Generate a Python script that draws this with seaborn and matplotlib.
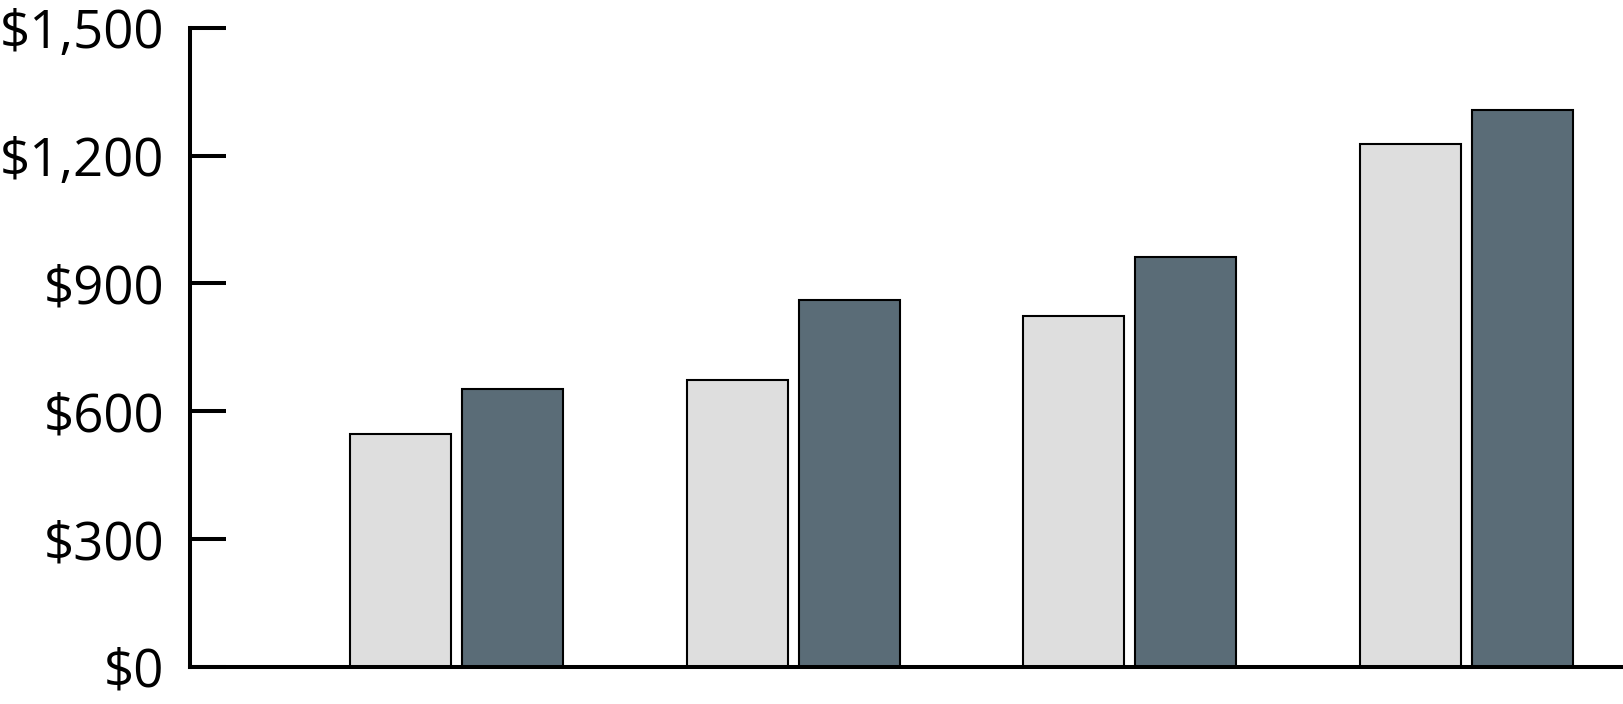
import matplotlib
matplotlib.use("Agg")
import matplotlib.pyplot as plt
import seaborn as sns
import pandas as pd
from matplotlib.ticker import FuncFormatter

categories = ["Group 1", "Group 2", "Group 3", "Group 4"]
series_names = ["Series A", "Series B"]
series_a = [546, 672, 823, 1227]
series_b = [651, 860, 962, 1307]
y_ticks = [0, 300, 600, 900, 1200, 1500]

df = pd.DataFrame({
    "category": categories * 2,
    "series": [series_names[0]] * 4 + [series_names[1]] * 4,
    "value": series_a + series_b,
})

sns.set_theme(style="white")
plt.rcParams["font.family"] = ["Open Sans", "DejaVu Sans"]

fig = plt.figure(figsize=(16.24, 7.04), dpi=100)
ax = fig.add_axes([190 / 1624, 1 - 666.5 / 704, 1 - 190 / 1624, (666.5 - 28) / 704])

sns.barplot(data=df, x="category", y="value", hue="series",
            palette=["#DEDEDE", "#5A6C77"], width=0.665, gap=0.098,
            edgecolor="black", linewidth=1.5, saturation=1,
            legend=False, ax=ax, errorbar=None)

ax.set_ylim(0, 1500)
ax.set_xlim(-0.792, 3.468)
ax.set_yticks(y_ticks)
ax.yaxis.set_major_formatter(FuncFormatter(lambda v, p: f"${int(v):,}"))
ax.tick_params(axis="y", direction="in", length=26, width=2.9, pad=18.5,
               labelsize=38, colors="black", left=True)
ax.tick_params(axis="x", bottom=False, labelbottom=False)
ax.set_xlabel("")
ax.set_ylabel("")
for s in ["top", "right"]:
    ax.spines[s].set_visible(False)
for s in ["left", "bottom"]:
    ax.spines[s].set_linewidth(2.9)
    ax.spines[s].set_color("black")
    ax.spines[s].set_capstyle("projecting")
ax.set_facecolor("white")
fig.patch.set_facecolor("white")

fig.savefig("out.png", dpi=100)
